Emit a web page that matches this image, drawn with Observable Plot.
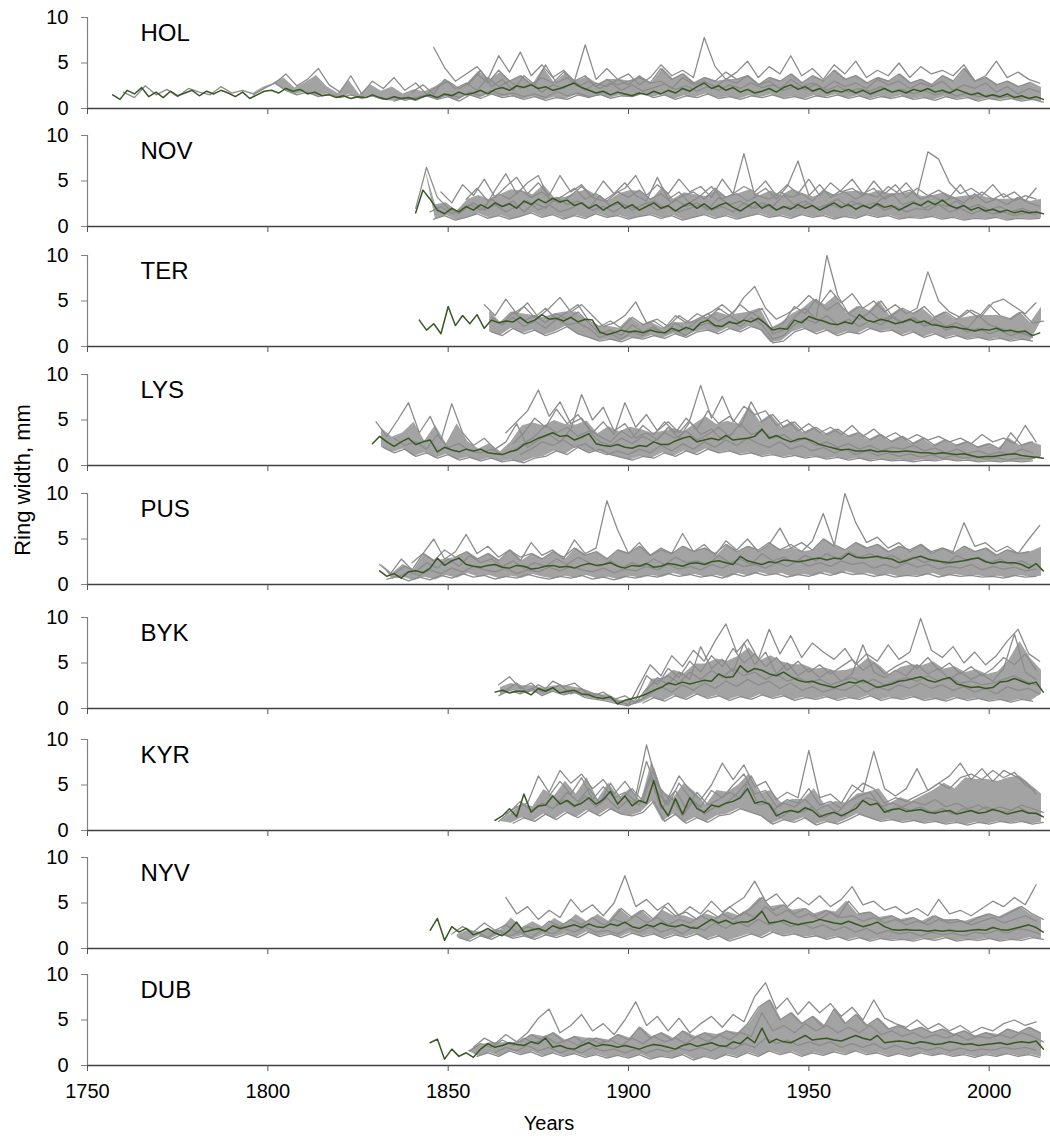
<!DOCTYPE html>
<html>
<head>
<meta charset="utf-8">
<script src="https://cdn.jsdelivr.net/npm/d3@7"></script>
<script src="https://cdn.jsdelivr.net/npm/@observablehq/plot@0.6"></script>
<style>
  html, body { margin: 0; padding: 0; background: #fff; }
  #chart { position: relative; width: 1050px; height: 1141px; overflow: hidden; font-family: "Liberation Sans", Arial, sans-serif; }
  #chart svg { position: absolute; left: 0; }
  #ylab { position: absolute; left: 23px; top: 480px; transform: translate(-50%, -50%) rotate(-90deg); white-space: nowrap; font-size: 22px; color: #000; }
</style>
</head>
<body>
<div id="chart"><div id="ylab">Ring width, mm</div></div>
<script>
// ---------------- DATA (ring width, mm) ----------------
const sites = ["HOL", "NOV", "TER", "LYS", "PUS", "BYK", "KYR", "NYV", "DUB"];
const xTicks = [1750, 1800, 1850, 1900, 1950, 2000];
const yTicks = [0, 5, 10];
const meanStep = 2;   // mean chronology sampled every 2 years
const grayStep = 3;   // individual series sampled every 3 years

// HOL
const HOL_meanFrom = 1757;
const HOL_mean = [1.5,1.0,2.0,1.6,2.3,1.3,1.8,1.2,1.9,1.4, 1.7,2.0,1.4,1.9,1.6,2.0,1.7,1.3,1.8,1.1,
  1.5,1.9,2.0,1.7,2.2,1.9,2.1,1.6,1.8,1.4, 1.5,1.2,1.4,1.1,1.3,1.2,1.5,1.2,1.0,1.3,
  1.1,1.2,1.0,1.3,1.5,1.2,1.6,1.4,1.8,1.5, 1.7,2.0,1.6,2.1,2.3,2.0,2.5,2.3,2.6,2.2,
  2.4,2.0,2.2,2.5,2.8,2.3,2.0,1.7,1.9,1.5, 1.8,1.6,1.4,1.7,1.5,1.9,1.6,2.0,1.7,2.2,
  1.9,2.4,2.8,2.2,2.5,2.0,2.3,1.8,2.1,1.7, 1.9,2.2,1.8,2.3,2.6,2.1,2.4,1.9,2.2,1.7,
  2.0,1.8,2.1,1.7,2.0,1.6,1.9,2.2,1.8,2.0, 1.7,2.1,1.9,2.2,1.8,2.0,1.7,2.1,1.8,1.5,
  1.7,1.3,1.5,1.3,1.6,1.2,1.4,1.1,1.3,1.0];
const HOL_gray = [
  {from: 1760, v: [1.8,1.2,2.5,1.5,2.1,1.3,2.2,1.8,1.5,2.4,1.7,2.0,1.6,2.3,2.8,2.0,1.5,1.8,1.3,1.6,1.2,1.5,1.1,1.4,1.0,1.3,0.9,1.2,1.5,1.1,1.6,1.2,1.8,1.4,2.0,1.5,1.7,1.3,1.6,1.2,1.9,1.4,1.7,1.3,1.5]},
  {from: 1796, v: [1.5,2.2,2.8,3.8,2.5,3.2,4.4,2.6,1.8,3.6,1.6,3.0,2.2,3.4,2.0,2.8,1.6,2.4,3.0,2.2,2.8,4.2,2.4,3.2,2.0,3.6,2.6,4.8,2.8,3.4,2.4,3.0,2.2,2.8,2.0,2.6,1.9,2.3,2.7,2.1,2.5,1.9,2.4,2.0,2.6,2.2,2.8,2.3,2.6,2.0,2.4,2.1,2.7,2.0,2.5,1.8,2.2,1.9,2.4,1.8,2.1,1.6,2.0,1.5,1.8,1.4,1.7,1.3,1.5,1.2,1.4,1.1]},
  {from: 1846, v: [6.7,4.5,3.0,3.8,4.6,3.2,5.8,4.0,6.2,3.6,4.8,3.4,4.2,3.0,7.0,3.2,4.4,3.2,3.8,2.6,3.4,4.8,3.6,4.2,3.4,7.8,4.6,3.2,4.0,5.2,3.4,4.6,3.8,5.8,3.6,4.4,3.2,4.8,3.8,5.2,3.4,4.2,3.6,5.0,3.4,4.6,3.8,4.2,3.6,4.8,3.0,3.6,5.2,3.4,4.0,3.2,2.8]},
  {from: 1840, v: [1.8,2.6,1.6,3.2,2.2,2.8,2.0,3.4,2.4,3.0,2.2,2.7,1.8,2.6,2.2,3.0,2.0,2.8,2.4,3.2,2.6,3.6,2.8,3.0,2.2,3.4,2.6,3.0,2.4,3.2,2.8,3.6,2.6,3.0,2.2,3.2,2.4,2.8,2.2,3.0,2.4,2.8,2.2,3.2,2.6,3.0,2.2,2.8,2.4,3.0,2.0,2.6,2.2,2.8,1.8,2.4,1.6,2.2,1.8]},
  {from: 1835, v: [0.8,1.2,0.9,1.4,1.0,1.3,0.8,1.5,1.1,1.6,1.2,1.4,1.0,1.3,0.9,1.2,1.0,1.5,1.2,1.6,1.1,1.4,1.3,1.7,1.2,1.5,1.0,1.4,1.2,1.6,1.1,1.3,1.0,1.4,1.2,1.5,1.1,1.3,1.0,1.4,1.2,1.5,1.1,1.4,1.0,1.3,1.1,1.4,1.0,1.2,0.9,1.3,1.0,1.2,0.8,1.1,0.9,1.1,0.8,1.0,0.7]},
  {from: 1855, v: [2.6,3.8,2.8,4.2,3.0,3.6,2.6,3.4,2.8,4.0,3.0,3.6,2.4,3.2,2.6,3.0,3.4,2.8,4.4,3.2,3.8,2.8,3.4,3.0,4.0,3.2,3.6,2.6,3.4,3.0,3.8,2.8,3.6,3.0,4.2,3.2,3.6,2.8,3.4,3.0,3.8,2.8,3.2,2.6,3.6,3.0,4.4,3.0,3.4,2.6,3.0,2.4,2.8]}
];

// NOV
const NOV_meanFrom = 1841;
const NOV_mean = [1.5,4.0,3.0,1.8,1.4,2.0,1.6,2.2,1.8,2.4, 2.0,2.6,2.2,2.5,2.0,2.8,2.4,3.0,2.6,3.1,
  2.7,2.9,2.3,2.6,2.0,2.4,1.8,2.3,2.7,2.0, 2.4,1.8,2.2,2.6,2.0,2.3,1.7,2.2,2.6,2.0,
  2.5,1.9,2.3,2.6,2.1,1.7,2.2,2.7,2.0,2.4, 1.8,2.2,1.9,2.4,2.0,2.3,1.8,2.2,2.6,2.1,
  2.4,1.9,2.3,2.0,2.5,2.1,2.3,1.8,2.2,2.6, 2.3,2.8,2.4,2.9,2.3,2.0,2.3,1.8,2.1,1.7,
  1.9,1.6,1.8,1.5,1.7,1.5,1.6,1.4];
const NOV_gray = [
  {from: 1841, v: [2.0,6.5,3.2,2.0,1.4,2.4,1.8,3.0,2.2,2.8,1.6,2.6,2.0,3.2,2.4,2.8,2.0,3.4,2.2,2.6,1.8,2.4,2.8,2.0,3.0,2.2,2.6,1.8,3.2,2.4,2.8,2.0,2.6,2.2,3.4,2.4,2.8,2.0,2.4,3.0,2.2,2.6,2.0,3.0,3.6,2.4,2.8,2.0,2.6,2.2,2.8,2.0,2.4,1.8,2.2,1.6,2.0,1.6]},
  {from: 1848, v: [3.8,2.6,4.6,3.4,5.2,3.2,4.4,5.4,3.6,4.8,3.4,5.6,3.8,4.6,3.2,5.0,3.6,4.2,5.6,3.4,4.6,3.6,5.2,3.8,4.4,3.2,5.2,3.6,4.4,3.8,5.0,3.4,4.6,3.6,5.2,3.4,4.8,3.8,4.2,3.4,5.0,3.6,4.6,3.2,4.2,3.4,4.0,3.2,4.6,3.0,3.8,3.0,3.6,2.8,3.4,3.0]},
  {from: 1860, v: [2.0,4.0,5.8,3.6,4.8,5.6,3.0,2.6,3.4,4.4,3.2,2.8,3.6,4.8,3.4,2.8,5.4,3.0,3.8,2.6,3.4,4.4,3.0,3.6,8.0,3.4,4.2,3.0,4.4,7.2,3.4,4.6,3.2,4.0,5.2,3.6,4.2,3.0,3.6,4.8,3.4,8.2,7.4,4.8,3.6,4.2,3.4,4.6,3.2,3.8,2.8,4.2]},
  {from: 1845, v: [1.6,2.2,1.4,2.0,2.6,1.8,2.4,1.6,2.2,2.8,1.8,2.4,1.6,2.0,2.6,1.8,2.2,1.6,2.4,2.0,2.6,1.8,2.2,1.6,2.0,2.4,1.8,2.2,1.6,2.6,2.0,2.4,1.8,2.2,2.0,2.6,1.8,2.4,2.0,2.8,2.2,2.6,1.8,2.2,1.6,2.0,1.8,2.4,1.6,2.0,1.4,1.8,1.4,1.6,1.2,1.5,1.3]},
  {from: 1846, v: [0.8,1.2,0.7,1.0,1.4,0.9,1.2,0.8,1.1,1.5,1.0,1.3,0.8,1.2,0.9,1.4,1.0,1.2,0.8,1.1,1.3,0.9,1.2,0.7,1.0,1.3,0.9,1.2,0.8,1.1,1.4,1.0,1.2,0.9,1.3,1.0,1.2,0.8,1.1,0.9,1.3,1.0,1.2,0.8,1.0,0.9,1.1,0.8,1.0,0.7,0.9,0.8,1.0,0.7,0.9,0.8,0.9]},
  {from: 1855, v: [3.0,4.2,2.8,3.6,3.0,4.0,3.2,3.8,2.8,3.4,4.2,3.0,3.6,2.8,3.8,3.2,4.0,3.0,3.6,2.6,3.4,3.8,3.0,4.2,3.2,3.6,2.8,3.4,3.0,3.8,3.2,3.6,2.8,4.0,3.4,3.8,3.0,3.6,3.2,4.4,3.6,4.0,3.0,3.4,2.8,3.2,2.6,3.6,2.6,3.0,2.4,3.2,2.6,2.2]}
];

// TER
const TER_meanFrom = 1842;
const TER_mean = [2.9,1.8,2.5,1.4,4.4,2.3,3.4,2.5,3.5,2.0, 2.9,2.6,2.8,2.7,3.2,2.6,2.9,3.5,3.0,3.1,
  2.8,3.2,2.7,3.0,2.9, 1.6,1.3,1.5,1.8,1.6,1.7,1.5,1.8,1.6,1.5, 2.0,1.7,2.1,1.8,2.6,
  2.9,2.3,2.2,2.7,2.5,2.9,2.7,3.1,2.5,1.8, 2.0,1.9,2.9,2.6,3.3,3.0,2.8,2.5,2.4,2.7,
  2.5,3.5, 2.9,2.7,3.0,2.8,2.5,2.7,3.0,2.6,2.8,2.4, 2.3,2.1,2.2,2.0,1.9,1.7,1.9,1.8,2.0,1.7,
  1.8,1.6,1.7,1.2,1.5];
const TER_gray = [
  {from: 1860, v: [4.6,3.4,5.2,3.6,4.8,3.2,4.2,5.4,3.8,4.6,3.4,2.2,2.6,3.4,4.9,2.6,3.0,2.2,3.4,2.6,3.2,3.8,4.6,3.6,5.4,6.6,4.2,3.0,3.6,4.4,5.6,4.6,6.2,4.8,5.8,4.2,5.0,3.8,4.6,3.6,4.2,8.2,5.0,3.8,3.2,4.0,3.4,4.8,5.2,4.4,3.6,4.8]},
  {from: 1862, v: [3.2,2.4,3.8,2.8,3.4,2.6,3.6,3.0,3.8,2.6,1.4,1.8,1.2,2.4,1.6,2.2,1.4,2.6,1.8,2.8,3.6,2.8,3.4,2.6,3.8,3.0,1.4,1.8,3.2,4.2,3.0,10.0,5.6,3.6,3.0,3.8,2.8,3.4,2.6,3.2,2.4,3.0,2.2,2.6,2.0,3.4,2.4,2.0,1.6,1.4,1.2]},
  {from: 1862, v: [1.6,1.2,2.0,1.4,1.8,1.2,1.6,2.2,1.4,1.0,0.6,0.8,0.5,1.0,0.8,1.2,0.9,1.4,1.0,1.6,1.8,1.4,2.0,1.6,2.2,1.8,0.4,0.6,1.6,2.0,1.4,1.8,1.2,1.6,1.4,2.0,1.6,1.8,1.2,1.6,1.0,1.4,0.9,1.2,0.8,1.0,0.7,0.9,0.6,0.8,0.6]},
  {from: 1865, v: [2.4,3.2,2.2,2.8,2.0,3.0,2.4,2.6,2.0,1.0,1.4,0.8,1.6,1.2,2.0,1.4,1.8,1.2,2.2,2.6,2.0,2.8,2.2,3.2,2.4,0.8,1.2,2.4,3.0,2.6,3.4,2.4,3.0,2.2,2.8,2.4,3.2,2.6,3.0,2.2,2.6,1.8,2.2,1.6,2.0,1.4,1.8,1.2,1.6,1.0]},
  {from: 1868, v: [3.6,4.4,3.2,4.2,3.0,3.8,4.6,2.8,2.2,2.8,2.0,3.2,2.4,2.8,2.0,3.4,2.6,3.6,3.0,4.2,3.4,4.6,3.6,4.2,2.0,2.6,4.4,3.6,5.2,4.0,4.8,3.6,4.4,3.8,5.0,3.4,4.2,3.6,4.4,3.2,3.8,3.0,4.0,3.2,4.6,3.4,3.0,3.8,2.6,2.8]}
];

// LYS
const LYS_meanFrom = 1829;
const LYS_mean = [2.4,3.2,2.6,2.1,2.6,3.0,2.3,2.6,2.8,1.5, 2.0,1.7,1.5,1.8,1.6,1.8,1.4,1.3,1.2,1.5,
  1.7,2.3,2.6,3.0,3.3,3.6,3.2,3.3,2.8,3.1, 3.5,2.4,2.2,2.1,2.3,2.0,1.9,2.2,2.1,2.6,
  2.3,2.3,2.7,3.0,3.2,2.6,2.8,3.0,2.8,3.3, 2.8,2.9,3.0,3.2,4.0,3.0,3.3,2.9,2.6,2.9,
  3.0,2.7,2.3,2.1,1.9,1.7,1.8,1.6,1.6,1.7, 1.5,1.6,1.5,1.5,1.6,1.5,1.4,1.4,1.3,1.4,
  1.3,1.2,1.3,1.1,0.9,1.0,1.0,1.1,1.2,1.3, 1.1,1.0,0.9,0.8];
const LYS_gray = [
  {from: 1830, v: [4.8,3.2,5.0,6.9,3.6,5.4,2.8,6.8,3.6,2.2,3.0,1.8,2.6,4.6,2.0,2.8,3.4,2.6,4.0,7.8,5.0,6.4,3.8,4.6,3.0,3.6,2.8,4.2,3.0,4.8,3.4,4.0,2.8,3.6]},
  {from: 1866, v: [3.6,4.8,6.0,8.3,5.4,7.0,4.6,5.2,3.6,4.8,3.4,6.9,4.2,5.6,3.8,4.8,3.6,5.0,8.8,5.2,7.6,4.8,6.5,5.6,6.0,4.4,5.0,3.8,4.6,3.6,4.2,3.4,4.4,3.2,4.0,3.0,3.6,2.8,3.4,2.8,3.2,2.6,3.0,2.4,3.4,2.6,3.0,2.4,4.4,2.6]},
  {from: 1832, v: [2.0,1.4,1.8,1.0,1.4,0.8,1.2,0.6,0.9,0.5,0.8,0.4,0.6,0.3,0.8,1.0,1.6,1.2,2.0,1.4,1.8,1.2,0.9,0.6,1.0,0.8,1.4,1.0,1.6,1.2,1.8,1.4,1.6,1.2,1.4,1.0,1.2,0.9,1.1,0.8,1.0,0.7,0.9,0.6,0.8,0.5,0.7,0.5,0.6,0.4,0.6,0.5,0.7,0.5,0.6,0.4,0.5,0.4,0.5,0.4,0.5]},
  {from: 1835, v: [3.0,2.2,2.6,1.8,3.4,2.0,2.4,1.6,1.4,1.8,1.2,1.6,2.4,3.2,4.4,3.6,4.2,3.2,3.8,2.6,2.2,3.0,2.4,3.2,2.6,3.6,3.0,3.8,2.8,3.4,4.2,3.2,4.6,3.4,3.8,3.0,3.4,2.6,3.0,2.2,2.6,2.0,2.4,1.8,2.2,1.6,2.0,1.8,2.2,1.6,1.9,1.4,1.8,1.3,1.6,1.2,1.5,1.2,1.8,1.4]},
  {from: 1868, v: [2.4,3.6,5.2,4.2,6.2,4.6,5.6,4.0,3.2,2.6,3.8,3.0,4.4,3.4,4.8,3.6,5.2,4.0,6.0,4.6,5.4,4.2,7.0,4.8,5.6,4.2,4.8,3.6,4.2,3.4,4.0,3.2,3.6,2.8,3.4,2.6,3.2,2.4,3.0,2.2,2.8,2.2,2.6,2.0,2.4,1.8,3.6,2.2,2.6]},
  {from: 1870, v: [1.2,1.8,2.6,2.2,2.8,2.0,2.4,1.6,1.2,1.6,1.2,1.8,1.4,2.2,1.6,2.4,1.8,2.6,2.0,2.8,2.2,3.0,2.4,2.0,2.6,1.8,2.2,1.6,2.0,1.4,1.8,1.2,1.6,1.1,1.4,1.0,1.3,0.9,1.2,0.8,1.1,0.8,1.0,0.7,0.9,0.6,0.8,0.7,1.0]}
];

// PUS
const PUS_meanFrom = 1831;
const PUS_mean = [1.5,0.9,1.2,0.7,1.4,1.5,1.3,1.8,2.9,2.1, 2.6,2.9,2.2,2.0,1.9,2.1,2.2,1.9,1.8,2.1,
  2.0,1.7,1.8,2.0,2.1,1.9,2.0,1.8,2.1,2.3, 2.1,2.2,2.4,2.0,1.8,2.1,2.0,2.3,1.9,2.0,
  2.3,2.2,2.0,2.3,2.4,2.2,2.5,2.6,2.4,2.2, 3.1,2.6,2.4,2.2,2.5,2.4,2.7,2.6,2.5,2.6,
  2.8,2.9,2.7,2.9,2.8,3.4,3.0,2.9,3.0,3.1, 2.9,2.8,2.4,2.6,2.9,3.1,2.8,2.6,2.5,2.4,
  2.5,2.6,2.8,2.9,2.5,2.3,2.5,2.4,2.4,2.2, 1.8,2.3,1.5];
const PUS_gray = [
  {from: 1831, v: [2.2,1.2,2.8,1.6,3.4,5.0,2.8,3.6,5.5,3.4,4.2,3.0,3.8,2.6,4.6,3.2,3.8,2.8,4.9,3.4,4.0,9.2,6.0,3.4,4.6,3.2,4.0,3.4,5.6,3.6,4.4,3.2,4.8,3.8,5.0,3.6,4.4,6.2,4.0,4.6,3.8,5.0,4.2,10.0,6.8,4.6,5.2,4.0,4.6,3.6,4.4,3.4,4.0,3.6,6.8,4.2,4.6,3.6,4.2,3.4,5.0,6.5]},
  {from: 1833, v: [0.6,0.9,0.4,0.8,0.5,1.0,0.7,1.2,0.8,1.0,0.6,0.9,0.7,1.1,0.8,0.6,0.9,0.7,1.0,0.6,0.8,0.5,0.9,0.7,1.0,0.8,1.2,0.9,1.1,0.8,1.0,0.7,1.2,0.9,1.3,1.0,1.2,0.8,1.1,0.9,1.3,1.0,1.4,1.1,1.2,0.9,1.1,0.8,1.0,0.9,1.2,0.8,1.1,0.9,1.0,0.8,0.9,0.7,1.0,0.8,0.9]},
  {from: 1835, v: [1.2,2.0,1.4,2.4,1.8,2.8,2.0,3.2,2.4,2.8,2.0,2.6,1.8,2.4,2.0,2.8,2.2,3.0,2.4,2.0,2.6,1.8,2.4,2.0,2.8,2.2,3.0,2.4,2.6,2.2,3.2,2.4,2.8,2.2,3.4,2.6,3.0,2.4,3.2,2.6,3.4,2.8,3.6,3.0,3.4,2.8,3.2,2.6,3.0,2.4,2.8,2.2,3.2,2.6,3.0,2.4,2.8,2.2,2.6,2.0]},
  {from: 1840, v: [2.4,3.4,2.6,3.8,3.0,3.6,2.8,3.4,2.6,3.8,3.0,3.4,2.8,3.6,3.0,4.0,3.2,3.6,2.8,3.8,3.4,4.2,3.2,3.8,3.4,4.2,3.6,4.0,3.4,4.4,3.6,4.2,3.8,4.6,3.8,4.4,3.6,4.8,7.8,4.4,3.8,4.6,4.0,4.4,3.6,4.2,3.8,4.4,3.6,4.0,3.4,4.2,3.6,4.0,3.2,3.8,3.4,3.6]},
  {from: 1836, v: [0.8,1.4,1.0,1.6,1.2,1.8,1.4,2.0,1.6,1.4,1.8,1.2,1.6,1.4,1.9,1.5,2.0,1.6,1.4,1.8,1.3,1.7,1.5,2.0,1.6,2.2,1.7,2.0,1.6,2.2,1.8,2.4,2.0,2.2,1.8,2.4,2.0,2.6,2.0,2.4,2.0,2.6,2.2,2.4,1.8,2.2,1.8,2.4,1.9,2.2,1.7,2.0,1.8,2.2,1.6,2.0,1.7,1.9,1.5,1.7]}
];

// BYK
const BYK_meanFrom = 1863;
const BYK_mean = [1.8,2.0,1.7,1.9,1.9,1.5,2.2,1.9,2.3,1.7, 1.9,2.0,1.6,1.5,1.2,1.1,1.3,0.5,0.9,1.1,
  1.3,1.6,2.0,2.3,2.8,2.6,2.9,2.7,2.9,3.1, 3.0,3.8,3.4,3.5,4.7,4.0,4.4,4.2,3.8,3.6,
  4.0,3.5,3.1,2.9,3.0,2.7,2.5,2.3,2.6,2.9, 2.8,3.1,2.7,2.3,2.5,2.7,3.0,3.1,3.3,3.5,
  3.1,2.9,3.2,3.4,2.7,2.5,2.3,2.4,2.2,2.3, 2.9,3.0,3.3,3.0,2.7,2.9,1.8];
const BYK_gray = [
  {from: 1864, v: [2.6,3.5,2.2,2.8,1.8,3.0,2.4,2.8,1.8,1.6,1.2,0.8,0.4,2.6,4.8,3.6,5.8,4.6,6.4,5.2,7.4,9.3,6.2,7.6,5.4,8.7,6.0,8.0,5.6,7.2,6.2,5.4,6.6,4.8,6.0,5.2,7.0,5.4,6.2,9.9,6.4,5.6,6.8,5.0,6.2,4.8,5.8,7.4,8.7,6.0,5.2]},
  {from: 1864, v: [1.4,2.0,1.6,2.2,1.4,1.9,1.5,1.8,1.2,1.0,0.8,0.5,0.3,0.9,1.6,2.4,1.8,2.6,2.0,2.8,2.2,3.0,2.4,3.2,2.6,3.0,2.2,2.8,2.0,2.4,1.8,2.2,2.0,2.6,1.8,2.4,2.0,2.6,2.2,2.8,2.2,2.6,2.0,2.4,1.8,2.2,1.6,2.4,2.0,2.2,1.6]},
  {from: 1902, v: [1.0,3.6,2.6,4.4,3.4,5.2,4.0,5.8,4.6,6.6,5.0,6.0,4.6,5.6,4.2,5.2,4.0,4.8,3.8,4.6,5.4,4.2,5.0,3.8,4.6,5.2,4.4,5.6,4.2,5.0,3.8,4.6,3.6,4.4,5.6,4.8,6.0,4.2]},
  {from: 1904, v: [0.6,1.2,0.8,1.4,1.0,1.6,1.1,1.4,0.9,1.3,1.0,1.5,1.1,1.4,0.9,1.2,1.0,1.3,0.9,1.2,1.0,1.4,0.9,1.2,1.0,1.3,0.9,1.1,0.8,1.2,0.9,1.1,0.8,1.0,0.7,1.0,0.8]},
  {from: 1905, v: [2.0,3.4,2.6,4.0,3.2,6.8,4.4,5.4,4.0,7.2,4.8,6.2,3.8,5.0,3.6,4.4,3.4,4.2,3.0,3.8,7.0,4.0,3.4,4.2,3.6,4.8,3.8,4.4,3.2,4.0,3.2,3.8,3.0,4.4,8.2,4.0,3.2]},
  {from: 1866, v: [2.0,2.8,1.8,2.6,2.0,2.6,1.6,2.2,1.4,1.8,1.0,1.4,0.6,2.2,3.0,3.6,2.8,4.0,3.2,4.2,3.4,4.4,3.6,4.0,3.2,3.8,3.0,3.4,2.8,3.2,2.6,3.0,3.4,2.8,3.2,2.6,3.0,3.4,3.0,3.6,3.0,3.4,2.8,3.0,2.6,2.8,3.2,3.6,3.0,2.6]}
];

// KYR
const KYR_meanFrom = 1863;
const KYR_mean = [1.1,1.6,2.4,1.5,4.0,2.0,2.7,2.8,3.8,2.9, 3.3,2.7,3.0,3.6,2.9,3.4,4.3,2.9,3.8,2.7,
  3.3,3.0,5.5,2.8,1.6,3.5,1.8,3.6,2.4,2.0, 2.8,2.6,3.0,3.2,3.6,4.6,3.0,3.2,2.9,1.6,
  2.0,2.2,2.0,2.5,2.2,1.5,1.8,2.0,1.6,2.0, 2.4,3.3,2.8,3.0,2.0,2.3,2.4,2.1,2.2,2.3,
  2.0,1.9,2.1,2.2,1.8,2.0,2.2,1.9,2.0,2.3, 2.1,1.8,2.0,2.2,1.9,1.9,1.5];
const KYR_gray = [
  {from: 1866, v: [1.8,2.6,3.0,6.0,4.2,6.6,5.2,6.2,4.6,5.6,4.0,5.4,3.8,9.4,5.0,3.6,6.0,4.4,3.4,5.0,7.4,5.6,7.2,4.8,5.4,3.4,4.2,3.6,8.8,3.6,4.0,3.0,5.0,4.2,8.7,4.6,3.8,4.6,6.8,4.4,5.2,6.0,7.4,5.6,6.8,5.4,6.6,6.0,5.4,4.0]},
  {from: 1878, v: [3.8,5.4,4.0,5.8,3.4,4.8,3.6,4.2,3.2,7.6,4.2,2.8,5.2,3.6,2.6,4.4,3.6,5.0,6.2,4.0,4.4,2.6,3.4,3.0,4.6,2.8,3.2,2.4,4.0,5.2,4.6,3.0,3.6,3.2,3.8,4.4,5.2,4.6,5.8,6.2,5.6,6.6,5.8,6.4,5.0,4.4]},
  {from: 1864, v: [1.0,2.0,3.2,2.2,3.0,2.4,3.4,2.6,3.8,2.6,3.6,2.4,3.4,2.8,6.0,2.4,3.6,1.6,3.2,1.8,2.6,3.0,4.0,5.4,2.8,3.0,1.4,2.2,2.0,2.6,1.4,2.0,1.6,2.8,3.6,3.2,2.0,2.6,2.2,2.6,2.0,2.4,1.8,2.4,2.0,2.6,2.2,2.0,2.6,2.0,1.8]},
  {from: 1868, v: [0.8,1.4,1.0,1.8,1.2,2.0,1.4,2.2,1.6,2.4,1.8,1.6,2.0,3.2,1.0,1.8,0.8,1.4,0.9,1.6,1.8,2.4,2.0,1.6,0.7,1.2,0.9,1.4,0.6,1.0,0.7,1.2,1.8,1.4,1.0,1.2,0.9,1.1,0.8,1.0,0.7,0.9,0.6,0.9,0.7,1.0,0.8,1.0,0.7,0.9]},
  {from: 1880, v: [2.8,4.2,3.2,4.6,3.0,5.2,3.4,4.6,3.2,6.8,3.0,4.4,2.4,4.2,2.8,3.4,4.2,3.6,6.0,3.8,2.2,3.0,2.6,3.4,2.2,2.8,2.0,3.2,3.8,4.2,2.6,3.0,2.6,3.2,2.8,3.4,2.6,3.0,2.4,2.8,2.2,2.6,2.2,2.8,2.4,2.0]}
];

// NYV
const NYV_meanFrom = 1845;
const NYV_mean = [2.0,3.3,0.9,2.4,1.8,2.2,1.5,1.8,2.2,1.7, 1.4,2.0,2.9,1.8,2.0,2.2,1.9,2.5,2.2,2.4,
  2.6,2.3,2.7,2.4,2.3,2.7,2.5,2.9,2.4,2.2, 2.6,2.4,2.8,2.5,2.4,2.6,2.3,2.2,2.7,3.2,
  2.8,3.1,2.7,2.9,2.9,3.3,4.1,2.8,2.9,3.1, 2.8,2.6,2.8,2.9,3.2,3.0,2.8,2.7,3.0,2.7,
  2.4,2.6,2.9,2.4,2.1,2.0,2.1,2.0,2.0,1.9, 2.0,1.9,2.0,1.9,1.9,2.0,2.1,2.0,2.3,2.1,
  2.0,2.2,2.4,2.6,2.3,1.8];
const NYV_gray = [
  {from: 1866, v: [5.6,3.8,4.6,3.2,4.2,3.4,5.4,4.0,4.8,3.6,5.0,8.0,4.6,5.4,4.2,5.0,3.6,4.6,3.8,5.2,4.0,4.8,5.6,7.4,5.2,6.0,4.6,5.6,4.8,5.8,4.6,5.4,6.8,4.8,5.2,4.2,4.6,3.8,4.4,3.6,5.4,3.8,4.2,3.6,4.4,5.2,4.6,5.6,4.8,7.0]},
  {from: 1851, v: [1.6,2.4,1.8,2.8,2.0,2.6,1.8,2.4,2.0,3.0,2.4,3.2,2.6,3.4,2.6,3.2,2.8,3.6,2.8,3.4,2.6,3.2,2.8,3.6,3.0,3.8,3.2,4.0,3.4,4.6,3.6,4.2,3.4,3.8,3.2,4.0,3.4,3.6,3.0,3.4,2.8,3.2,2.6,3.0,2.6,3.2,2.8,3.0,2.6,3.0,3.4,2.8,3.2,3.6,3.0]},
  {from: 1853, v: [1.2,0.8,1.4,1.0,1.6,1.1,1.4,1.0,1.5,1.2,1.6,1.2,1.8,1.3,1.6,1.2,1.7,1.3,1.6,1.1,1.5,1.2,1.6,1.0,1.4,0.8,1.2,1.6,1.2,1.8,1.4,1.6,1.2,1.4,1.0,1.3,0.9,1.2,0.8,1.1,0.9,1.0,0.8,1.1,0.9,1.2,0.8,1.0,0.9,1.1,0.8,1.0,0.9,1.2,1.0]},
  {from: 1858, v: [1.8,1.2,2.0,1.4,1.8,1.2,2.0,1.6,2.2,1.8,2.4,1.8,2.0,1.6,2.2,1.8,2.4,1.8,2.2,1.6,2.4,2.0,2.8,2.2,3.0,2.4,3.2,2.6,3.0,2.4,2.8,2.2,2.6,2.0,2.4,1.8,2.2,1.6,2.0,1.6,1.8,1.4,1.8,1.5,1.7,1.4,1.8,1.6,2.0,1.7,2.2,2.0,1.6]},
  {from: 1895, v: [3.0,4.4,3.4,4.2,3.2,4.6,3.6,4.0,3.2,4.2,3.4,4.6,3.6,4.4,5.6,4.2,4.8,3.8,4.4,3.6,4.2,3.4,5.2,3.8,4.0,3.2,3.6,3.0,3.4,2.8,3.6,3.0,3.2,2.8,3.4,3.8,3.4,4.0,4.6,3.8,3.2]}
];

// DUB
const DUB_meanFrom = 1845;
const DUB_mean = [2.5,2.9,0.7,1.8,1.0,1.4,0.9,1.8,2.4,2.0, 2.2,2.5,2.3,2.2,2.6,2.4,3.0,2.0,2.2,1.9,
  1.8,2.2,2.5,2.1,2.3,2.2,2.0,2.2,2.0,1.8, 2.1,2.3,2.2,2.0,1.8,2.2,2.4,2.1,2.3,2.5,
  2.2,2.1,2.6,2.4,3.1,2.5,4.1,2.5,2.9,2.6, 2.5,2.9,3.3,2.8,2.9,3.0,2.8,2.7,3.0,3.3,
  3.0,2.8,3.3,2.5,2.6,2.7,2.6,2.4,2.6,2.5, 2.3,2.4,2.6,2.5,2.3,2.4,2.2,2.3,2.4,2.5,
  2.3,2.5,2.6,2.5,2.7,1.8];
const DUB_gray = [
  {from: 1857, v: [2.0,3.0,2.4,3.4,2.6,3.6,5.2,6.2,3.6,4.4,5.6,3.8,4.6,3.4,5.0,7.0,4.4,5.4,3.8,5.2,3.6,4.6,5.4,4.2,5.6,4.8,7.6,9.1,6.2,7.4,5.6,7.0,5.8,6.8,5.4,6.4,5.0,7.2,5.2,4.6,4.2,5.0,4.0,4.6,3.8,4.4,3.6,4.2,3.8,4.6,5.0,4.4,4.8]},
  {from: 1856, v: [1.6,2.4,2.0,2.8,2.2,3.0,2.4,3.2,2.4,2.8,2.2,3.0,2.4,2.8,2.2,3.0,2.4,3.2,2.6,3.0,2.4,3.2,2.6,3.4,2.8,3.6,3.2,5.8,3.8,4.4,3.6,4.6,3.8,4.4,3.6,4.2,3.6,4.4,3.4,3.8,3.2,3.6,3.0,3.4,3.0,3.4,2.8,3.2,3.0,3.4,3.0,3.6,3.2,2.6]},
  {from: 1858, v: [1.0,1.4,1.0,1.6,1.2,1.5,1.0,1.4,1.0,1.3,0.9,1.2,0.8,1.1,0.8,1.2,0.7,1.0,0.8,1.2,0.6,1.0,0.7,1.2,0.9,1.4,1.0,1.6,1.2,1.5,1.0,1.4,1.1,1.5,1.2,1.6,1.2,1.4,1.0,1.3,1.0,1.4,1.1,1.3,1.0,1.2,0.9,1.2,1.0,1.3,1.0,1.2,0.9]},
  {from: 1870, v: [2.6,3.4,2.8,3.6,2.6,3.2,2.4,3.0,2.6,3.4,2.8,4.2,3.0,3.6,2.8,3.8,3.0,3.6,3.0,3.8,3.4,4.6,6.4,7.2,5.0,5.8,4.6,5.4,4.2,6.2,4.6,5.6,4.4,5.2,4.0,4.4,3.8,4.2,3.6,4.0,3.4,3.8,3.2,3.6,3.2,4.0,3.6,4.2,3.6]},
  {from: 1863, v: [1.4,2.0,1.6,2.2,1.6,2.0,1.4,1.8,1.4,2.0,1.6,1.8,1.4,1.8,1.4,1.8,1.5,1.9,1.6,2.0,1.6,2.2,1.8,2.4,2.0,3.0,2.4,2.8,2.2,2.6,2.2,2.6,2.0,2.4,2.0,2.4,1.8,2.2,1.8,2.0,1.7,2.0,1.6,1.9,1.6,1.8,1.7,2.0,1.8,2.0,1.7]}
];

const meanFrom = {HOL: HOL_meanFrom, NOV: NOV_meanFrom, TER: TER_meanFrom, LYS: LYS_meanFrom, PUS: PUS_meanFrom, BYK: BYK_meanFrom, KYR: KYR_meanFrom, NYV: NYV_meanFrom, DUB: DUB_meanFrom};
const means = {HOL: HOL_mean, NOV: NOV_mean, TER: TER_mean, LYS: LYS_mean, PUS: PUS_mean, BYK: BYK_mean, KYR: KYR_mean, NYV: NYV_mean, DUB: DUB_mean};
const grays = {HOL: HOL_gray, NOV: NOV_gray, TER: TER_gray, LYS: LYS_gray, PUS: PUS_gray, BYK: BYK_gray, KYR: KYR_gray, NYV: NYV_gray, DUB: DUB_gray};

// ---------------- LAYOUT ----------------
const W = 1050, ML = 87;
const panelBottom = [108, 226, 346, 465, 584, 708, 830, 948, 1065]; // pixel y of the 0-line of each panel
const SPAN = 91, MT = 14, MB = 12, MB_LAST = 76;
const FONT = '"Liberation Sans", Arial, Helvetica, sans-serif';
const GRAY = "#8c8c8c", GREEN = "#385723";

const chart = document.getElementById("chart");

sites.forEach((site, i) => {
  const last = i === sites.length - 1;
  const mb = last ? MB_LAST : MB;
  const height = MT + SPAN + mb;
  const meanRows = means[site].map((v, k) => ({year: meanFrom[site] + k * meanStep, value: v})).filter(d => d.year <= 2015);
  const grayRows = grays[site].flatMap((s, j) => s.v.map((v, k) => ({id: j, year: s.from + k * grayStep, value: v}))).filter(d => d.year <= 2015);

  const marks = [
    // dense core of the individual series: per 3-year bin, from the lowest series to the upper quartile
    Plot.areaY(grayRows, Plot.binX({y1: "min", y2: "p75"}, {x: "year", y: "value", interval: grayStep, fill: GRAY, fillOpacity: 0.8})),
    Plot.line(grayRows, {x: "year", y: "value", z: "id", stroke: GRAY, strokeWidth: 1.3, clip: true}),
    Plot.line(meanRows, {x: "year", y: "value", stroke: GREEN, strokeWidth: 1.5}),
    Plot.ruleX([1750], {stroke: "#808080", strokeWidth: 1.2}),
    Plot.ruleY([0], {stroke: "#404040", strokeWidth: 1.6}),
    Plot.axisY({ticks: yTicks, tickSize: 6, tickPadding: 13, stroke: "#808080", fontSize: 20, label: null}),
    Plot.axisX({ticks: xTicks, tickSize: 6, stroke: "#555", label: null, fontSize: 20, tickPadding: 12,
                tickFormat: last ? (d => String(d)) : (() => "")}),
    Plot.text([site], {frameAnchor: "top-left", dx: 53, dy: 16, textAnchor: "start", lineAnchor: "middle", fontSize: 24, fill: "#000"})
  ];
  if (last) {
    marks.push(Plot.text(["Years"], {frameAnchor: "bottom", dx: -20, dy: 58, lineAnchor: "middle", fontSize: 20, fill: "#000"}));
  }

  const svg = Plot.plot({
    width: W, height,
    marginLeft: ML, marginRight: 0, marginTop: MT, marginBottom: mb,
    x: {domain: [1750, 2017]},
    y: {domain: [0, 10]},
    style: {background: "none", overflow: "visible", fontFamily: FONT, fontSize: "20px", color: "#000"},
    marks
  });
  svg.style.position = "absolute";
  svg.style.left = "0px";
  svg.style.top = (panelBottom[i] - SPAN - MT) + "px";
  chart.appendChild(svg);
});
</script>
</body>
</html>
